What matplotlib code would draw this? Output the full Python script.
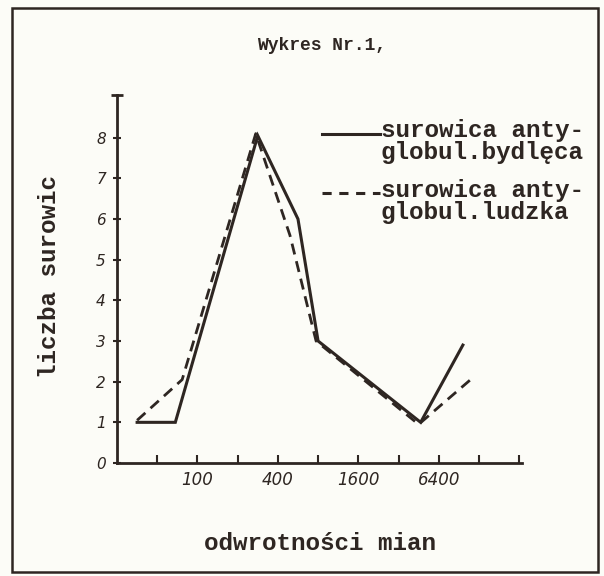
import matplotlib.pyplot as plt
from matplotlib.lines import Line2D
from matplotlib.patches import Rectangle

# dane (os x: kolejne podzialki = kolejne rozcienczenia x2)
x_bydleca = [0.5, 1.45, 3.5, 4.5, 5.0, 7.55, 8.6]
y_bydleca = [1, 1, 8.05, 6, 3, 1, 2.9]
x_ludzka = [0.5, 1.62, 3.45, 4.3, 4.95, 7.5, 8.85]
y_ludzka = [1.05, 2.05, 8.1, 5.6, 3, 0.95, 2.1]

x_podzialki = [1, 2, 3, 4, 5, 6, 7, 8, 9, 10]
x_etykiety = ['', '100', '', '400', '', '1600', '', '6400', '', '']
y_podzialki = [0, 1, 2, 3, 4, 5, 6, 7, 8]

tusz = '#2e2622'
papier = '#fcfcf7'
maszyna = 'Liberation Mono'

fig = plt.figure(figsize=(6.04, 5.76), dpi=100, facecolor=papier)
ax = fig.add_axes([117/604, 1 - 463/576, 405/604, 368/576], facecolor=papier)

ax.plot(x_bydleca, y_bydleca, color=tusz, lw=2.2, solid_joinstyle='miter')
ax.plot(x_ludzka, y_ludzka, color=tusz, lw=2.0, dashes=(4, 2.5))

ax.set_xlim(0, 10.07)
ax.set_ylim(0, 9.05)
for s in ['top', 'right']:
    ax.spines[s].set_visible(False)
for s in ['left', 'bottom']:
    ax.spines[s].set_color(tusz)
    ax.spines[s].set_linewidth(2)

ax.set_xticks(x_podzialki)
ax.set_xticklabels(x_etykiety, fontsize=12, style='italic', color=tusz)
ax.set_yticks(y_podzialki)
ax.set_yticklabels([str(v) for v in y_podzialki], fontsize=11, style='italic', color=tusz)
ax.tick_params(axis='x', direction='in', length=6, width=1.5, color=tusz, pad=6)
ax.tick_params(axis='y', direction='inout', length=6, width=1.5, color=tusz, pad=5)
ax.set_yticks([9.05], minor=True)
ax.tick_params(axis='y', which='minor', direction='inout', length=8, width=2, color=tusz)

# podpisy osi i tytul (pismo maszynowe)
fig.text(50/604, 1 - 277/576, 'liczba surowic', fontsize=17.5, family=maszyna,
         fontweight='bold', color=tusz, ha='center', va='center', rotation=90)
fig.text(322/604, 1 - 45/576, 'Wykres Nr.1,', fontsize=13, family=maszyna,
         fontweight='bold', color=tusz, ha='center', va='center')
fig.text(320/604, 1 - 543/576, 'odwrotności mian', fontsize=17.5, family=maszyna,
         fontweight='bold', color=tusz, ha='center', va='center')

# legenda
for ly, styl, t1, t2 in [(131, '-', 'surowica anty-', 'globul.bydlęca'),
                          (190, '--', 'surowica anty-', 'globul.ludzka')]:
    ln = Line2D([322/604, 380/604], [1 - (ly + 3)/576] * 2, transform=fig.transFigure,
                color=tusz, lw=2.2)
    if styl == '--':
        ln.set_dashes((3, 2.5))
    fig.add_artist(ln)
    fig.text(381/604, 1 - ly/576, t1, fontsize=17.5, family=maszyna, fontweight='bold',
             color=tusz, ha='left', va='center')
    fig.text(381/604, 1 - (ly + 22)/576, t2, fontsize=17.5, family=maszyna, fontweight='bold',
             color=tusz, ha='left', va='center')

# ramka kartki
fig.add_artist(Rectangle((12/604, 1 - 572/576), 586/604, 564/576, transform=fig.transFigure,
                         fill=False, edgecolor=tusz, lw=1.8))

fig.savefig('out.png', dpi=100, facecolor=papier)
